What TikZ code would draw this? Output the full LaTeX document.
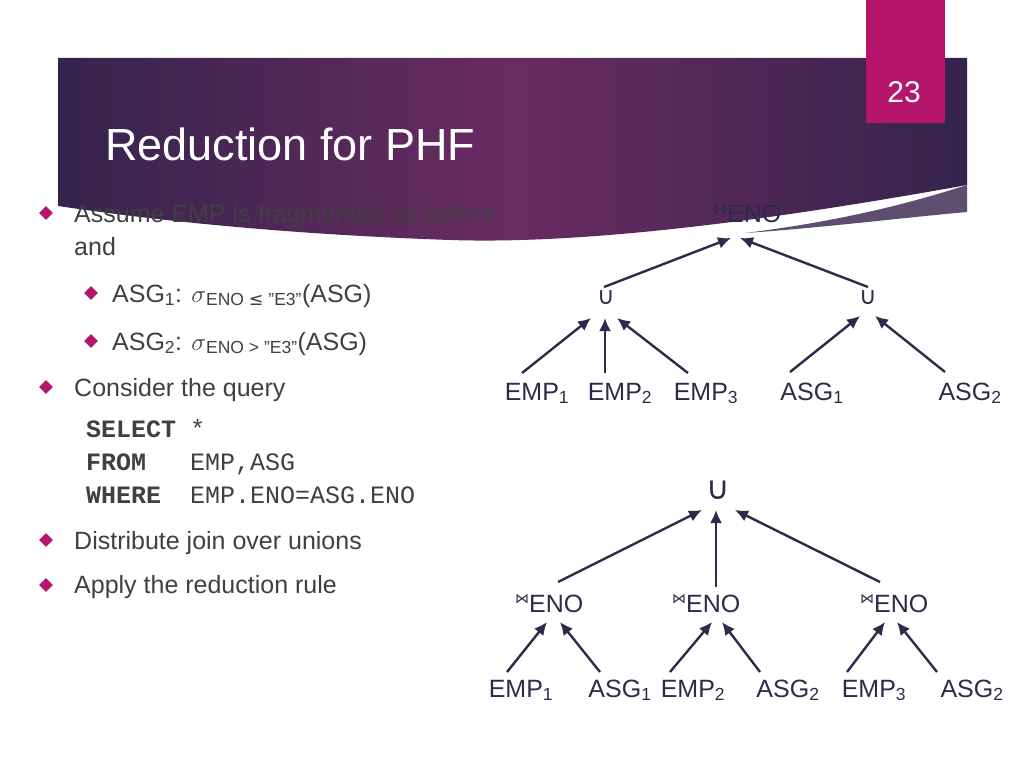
\documentclass[tikz,border=0pt]{standalone}
\usepackage{fontspec}
\setmainfont{Liberation Sans}
\newfontfamily\codefont{Liberation Mono}
\newfontfamily\symfont{DejaVu Sans}
\usetikzlibrary{shapes.geometric,arrows.meta}
\definecolor{txt}{HTML}{404040}
\definecolor{arr}{HTML}{2E2A4A}
\definecolor{mag}{HTML}{B5156A}
\definecolor{bd}{HTML}{35244D}
\definecolor{bm}{HTML}{6A2B62}
\definecolor{wedge}{HTML}{5E4F70}
\begin{document}
\begin{tikzpicture}[x=1pt,y=-1pt,
  bul/.style={diamond,fill=mag,inner sep=0pt,minimum size=14pt},
  btxt/.style={anchor=base west,text=txt,font=\fontsize{25}{28}\selectfont,inner sep=0pt},
  code/.style={anchor=base west,text=txt,font=\codefont\fontsize{25}{28}\selectfont,inner sep=0pt},
  lab/.style={text=arr,font=\fontsize{25}{28}\selectfont,inner sep=1pt},
  op/.style={text=arr,font=\symfont\fontsize{24}{26}\selectfont,inner sep=0pt},
  ar/.style={draw=arr,line width=2.4pt,-{Latex[length=13pt,width=12pt]}},
]
\useasboundingbox (0,0) rectangle (1024,768);
\fill[white] (0,0) rectangle (1024,768);
% banner
\shade[left color=bd,right color=bd,middle color=bm]
  (58,58) -- (967,58) -- (967,185) .. controls (800,215) and (600,245) .. (450,240)
  .. controls (250,233) and (120,215) .. (58,206) -- cycle;
\fill[wedge] (745,233) .. controls (850,220) and (920,200) .. (967,185) -- (967,212) .. controls (900,218) and (820,228) .. (745,233) -- cycle;
\fill[mag] (866,0) rectangle (945,123);
\node[text=white,font=\fontsize{30}{34}\selectfont] (num) at (904,92) {23};
\node[anchor=base west,text=white,font=\fontsize{45}{50}\selectfont,inner sep=0pt] (title) at (105,160) {Reduction for PHF};
% bullets
\node[bul] (b1) at (46,213) {};
\node[btxt] (t1) at (74,222) {Assume EMP is fragmented as before};
\node[btxt] (t1b) at (74,255) {and};
\node[bul] (b2) at (91,293) {};
\node[btxt] (t2) at (112,302) {ASG\textsubscript{1}: {\fontsize{27}{28}\selectfont$\sigma$}\textsubscript{ENO {\symfont ≤} "E3"}(ASG)};
\node[bul] (b3) at (91,341) {};
\node[btxt] (t3) at (112,350) {ASG\textsubscript{2}: {\fontsize{27}{28}\selectfont$\sigma$}\textsubscript{ENO > "E3"}(ASG)};
\node[bul] (b4) at (46,387) {};
\node[btxt] (t4) at (74,396) {Consider the query};
\node[code] (c1) at (86,437) {\textbf{SELECT}};
\node[code] (c1b) at (190,437) {*};
\node[code] (c2) at (86,470) {\textbf{FROM}};
\node[code] (c2b) at (190,470) {EMP,ASG};
\node[code] (c3) at (86,503) {\textbf{WHERE}};
\node[code] (c3b) at (190,503) {EMP.ENO=ASG.ENO};
\node[bul] (b5) at (46,540) {};
\node[btxt] (t5) at (74,549) {Distribute join over unions};
\node[bul] (b6) at (46,585) {};
\node[btxt] (t6) at (74,593) {Apply the reduction rule};
% top tree
\node[lab,anchor=base west] (jt) at (712,222) {{\symfont\fontsize{14}{16}\selectfont\raisebox{9pt}{⋈}}ENO};
\node[op] (u1) at (606,298) {∪};
\node[op] (u2) at (868,298) {∪};
\node[lab,anchor=base] (e1) at (537,400) {EMP\textsubscript{1}};
\node[lab,anchor=base] (e2) at (620,400) {EMP\textsubscript{2}};
\node[lab,anchor=base] (e3) at (706,400) {EMP\textsubscript{3}};
\node[lab,anchor=base] (a1) at (812,400) {ASG\textsubscript{1}};
\node[lab,anchor=base] (a2) at (970,400) {ASG\textsubscript{2}};
\coordinate (e1t) at (522,373); \coordinate (u1a) at (591,318);
\coordinate (e2t) at (605,373); \coordinate (u1b) at (605,318);
\coordinate (e3t) at (688,373); \coordinate (u1c) at (617,318);
\coordinate (a1t) at (790,372); \coordinate (u2a) at (860,316);
\coordinate (a2t) at (945,372); \coordinate (u2b) at (875,316);
\coordinate (u1t) at (604,287); \coordinate (jtl) at (731,238);
\coordinate (u2t) at (868,287); \coordinate (jtr) at (740,238);
\draw[ar] (e1t) -- (u1a);
\draw[ar] (e2t) -- (u1b);
\draw[ar] (e3t) -- (u1c);
\draw[ar] (a1t) -- (u2a);
\draw[ar] (a2t) -- (u2b);
\draw[ar] (u1t) -- (jtl);
\draw[ar] (u2t) -- (jtr);
% bottom tree
\node[op,font=\symfont\fontsize{32}{34}\selectfont] (ub) at (718,490) {∪};
\node[lab,anchor=base west] (j1) at (514,612) {{\symfont\fontsize{14}{16}\selectfont\raisebox{9pt}{⋈}}ENO};
\node[lab,anchor=base west] (j2) at (671,612) {{\symfont\fontsize{14}{16}\selectfont\raisebox{9pt}{⋈}}ENO};
\node[lab,anchor=base west] (j3) at (859,612) {{\symfont\fontsize{14}{16}\selectfont\raisebox{9pt}{⋈}}ENO};
\node[lab,anchor=base] (l1) at (521,697) {EMP\textsubscript{1}};
\node[lab,anchor=base] (l2) at (620,697) {ASG\textsubscript{1}};
\node[lab,anchor=base] (l3) at (693,697) {EMP\textsubscript{2}};
\node[lab,anchor=base] (l4) at (788,697) {ASG\textsubscript{2}};
\node[lab,anchor=base] (l5) at (874,697) {EMP\textsubscript{3}};
\node[lab,anchor=base] (l6) at (972,697) {ASG\textsubscript{2}};
\coordinate (l1t) at (507,672); \coordinate (j1a) at (547,622);
\coordinate (l2t) at (600,672); \coordinate (j1b) at (560,622);
\coordinate (l3t) at (670,672); \coordinate (j2a) at (712,622);
\coordinate (l4t) at (760,672); \coordinate (j2b) at (722,622);
\coordinate (l5t) at (847,672); \coordinate (j3a) at (885,622);
\coordinate (l6t) at (937,672); \coordinate (j3b) at (897,622);
\coordinate (j1t) at (558,582); \coordinate (uba) at (702,510);
\coordinate (j2t) at (716,587); \coordinate (ubb) at (716,510);
\coordinate (j3t) at (880,582); \coordinate (ubc) at (735,510);
\draw[ar] (l1t) -- (j1a);
\draw[ar] (l2t) -- (j1b);
\draw[ar] (l3t) -- (j2a);
\draw[ar] (l4t) -- (j2b);
\draw[ar] (l5t) -- (j3a);
\draw[ar] (l6t) -- (j3b);
\draw[ar] (j1t) -- (uba);
\draw[ar] (j2t) -- (ubb);
\draw[ar] (j3t) -- (ubc);
\end{tikzpicture}
\end{document}
